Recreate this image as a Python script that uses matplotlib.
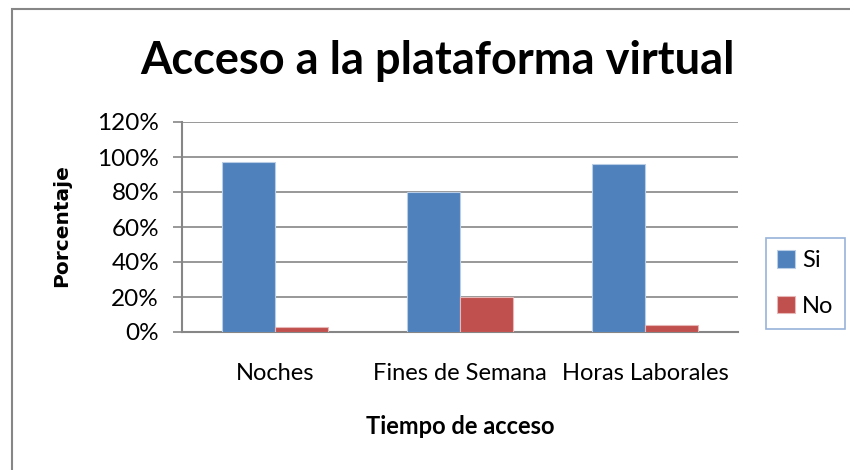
import matplotlib
matplotlib.use("Agg")
import matplotlib.pyplot as plt
import numpy as np
from matplotlib.patches import Rectangle

categories = ["Noches", "Fines de Semana", "Horas Laborales"]
si_values = [97, 80, 96]
no_values = [3, 20, 4]
series_names = ["Si", "No"]
yticks = [0, 20, 40, 60, 80, 100, 120]
ytick_labels = ["0%", "20%", "40%", "60%", "80%", "100%", "120%"]

plt.rcParams['font.family'] = ['Lato', 'DejaVu Sans']

W, H = 850, 470
fig = plt.figure(figsize=(W / 100, H / 100), dpi=100)
fig.patch.set_facecolor("white")

# outer chart border
fig.add_artist(Rectangle((12 / W, -0.05), 1.0, (H - 9) / H + 0.05, transform=fig.transFigure,
                         fill=False, edgecolor="#868686", linewidth=1.5))

ax = fig.add_axes([182 / W, (H - 332) / H, (738 - 182) / W, (332 - 122) / H])
x = np.arange(len(categories))
bw = 1 / 3.5
ax.bar(x - bw / 2, si_values, bw, color="#4F81BD", edgecolor="#B9CDE5", linewidth=0.8,
       label=series_names[0], zorder=3)
ax.bar(x + bw / 2, no_values, bw, color="#C0504D", edgecolor="#E6B9B8", linewidth=0.8,
       label=series_names[1], zorder=3)

ax.set_xlim(-0.5, len(categories) - 0.5)
ax.set_ylim(0, 120)
ax.set_yticks(yticks)
ax.set_yticklabels(ytick_labels, fontsize=17.5)
ax.set_xticks(x)
ax.set_xticklabels(categories, fontsize=17)
ax.tick_params(axis="x", length=0, pad=22)
ax.tick_params(axis="y", length=6.5, width=1.2, color="#868686", pad=10)
ax.yaxis.grid(True, color="#868686", linewidth=1.2, zorder=0)
for s in ["top", "right"]:
    ax.spines[s].set_visible(False)
for s in ["left", "bottom"]:
    ax.spines[s].set_color("#868686")
    ax.spines[s].set_linewidth(1.5)

fig.text(437 / W, (H - 61) / H, "Acceso a la plataforma virtual", fontsize=32.5,
         fontweight="bold", ha="center", va="center")
fig.text(62 / W, (H - 226) / H, "Porcentaje", fontsize=14.5, fontweight="bold",
         rotation=90, ha="center", va="center", family="DejaVu Sans")
fig.text(460 / W, (H - 426) / H, "Tiempo de acceso", fontsize=17, fontweight="bold",
         ha="center", va="center")

leg = fig.legend(loc="center", bbox_to_anchor=(805.5 / W, (H - 283.5) / H), fontsize=17,
                 frameon=True, fancybox=False, handlelength=0.75, handleheight=0.75,
                 labelspacing=1.05, handletextpad=0.3, borderpad=0.5, borderaxespad=0)
leg.get_frame().set_edgecolor("#7F9FCF")
leg.get_frame().set_linewidth(1.2)

fig.savefig("out.png", dpi=100)
